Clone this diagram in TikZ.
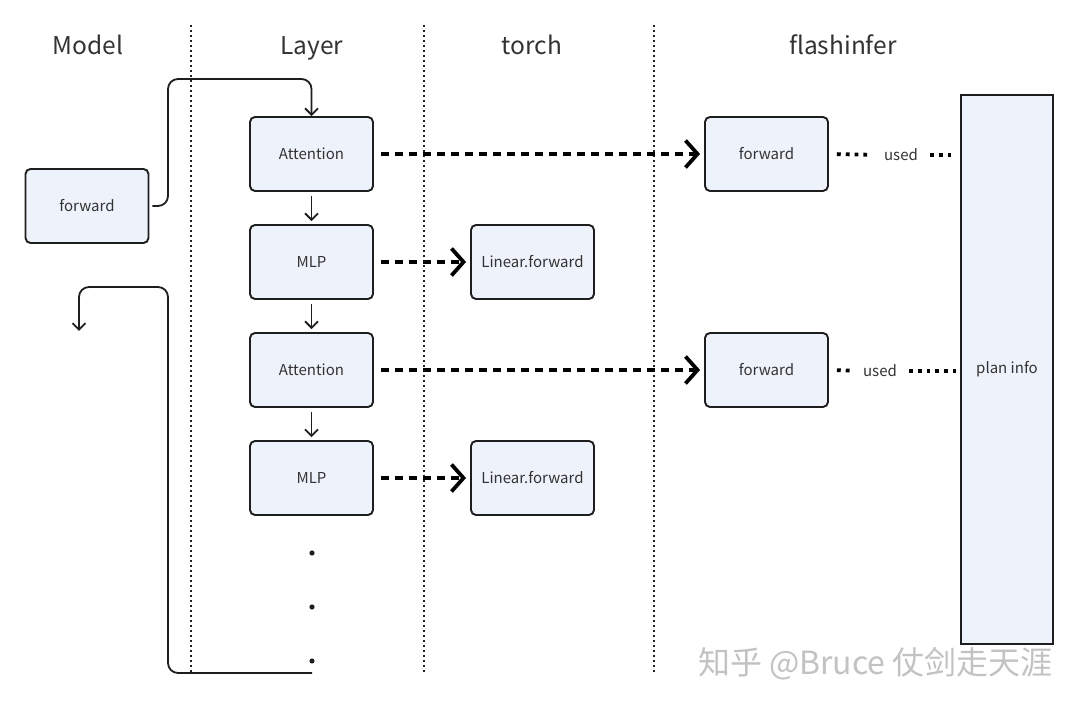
\documentclass[tikz,border=0pt]{standalone}
\usepackage{fontspec}
\setmainfont{Noto Sans CJK SC}
\usetikzlibrary{arrows.meta}
\definecolor{boxfill}{HTML}{EEF2FB}
\definecolor{boxline}{HTML}{1E1E1E}
\definecolor{txt}{HTML}{333333}
\begin{document}
\begin{tikzpicture}[x=1pt,y=-1pt,
  blk/.style={draw=boxline,line width=1.9pt,fill=boxfill,rounded corners=5pt,
    minimum width=123pt,minimum height=74pt,inner sep=0pt,text=txt,font=\fontsize{15}{17}\selectfont},
  hdr/.style={text=txt,font=\fontsize{24.5}{28}\selectfont,anchor=base},
  sep/.style={line width=1.8pt,dash pattern=on 1.8pt off 3.2pt,draw=boxline},
  flow/.style={line width=1.8pt,draw=boxline,-{Straight Barb[length=6.5pt,width=13pt]}},
  call/.style={line width=3.8pt,draw=black,dash pattern=on 8pt off 6pt,
    -{Straight Barb[length=12pt,width=27pt]},shorten <=7pt,shorten >=4pt},
  usedline/.style={line width=3.8pt,draw=black,dash pattern=on 3.8pt off 5pt},
  usedlbl/.style={text=txt,font=\fontsize{15}{17}\selectfont,inner sep=0pt}]
\useasboundingbox (0,0) rectangle (1080,708);
% column separators
\coordinate (s1a) at (191,25); \coordinate (s1b) at (191,672);
\coordinate (s2a) at (424,25); \coordinate (s2b) at (424,672);
\coordinate (s3a) at (654,25); \coordinate (s3b) at (654,672);
\draw[sep] (s1a) -- (s1b);
\draw[sep] (s2a) -- (s2b);
\draw[sep] (s3a) -- (s3b);
% headers
\node[hdr] (hmodel) at (88,55) {Model};
\node[hdr] (hlayer) at (312,55) {Layer};
\node[hdr] (htorch) at (532,55) {torch};
\node[hdr] (hflash) at (843,55) {flashinfer};
% boxes
\node[blk] (mf) at (87,206) {forward};
\node[blk] (att1) at (311.5,154) {Attention};
\node[blk] (mlp1) at (311.5,262) {MLP};
\node[blk] (att2) at (311.5,370) {Attention};
\node[blk] (mlp2) at (311.5,478) {MLP};
\node[blk] (lin1) at (532.5,262) {Linear.forward};
\node[blk] (lin2) at (532.5,478) {Linear.forward};
\node[blk] (ff1) at (766.5,154) {forward};
\node[blk] (ff2) at (766.5,370) {forward};
\node[blk,rounded corners=0pt,minimum width=92pt,minimum height=549pt] (plan) at (1007,369.5) {plan info};
% dots
\fill[boxline] (312,553) circle (2.6pt);
\fill[boxline] (312,607) circle (2.6pt);
\fill[boxline] (312,661) circle (2.6pt);
% layer flow
\draw[flow,shorten <=4pt,shorten >=3pt] (att1) -- (mlp1);
\draw[flow,shorten <=4pt,shorten >=3pt] (mlp1) -- (att2);
\draw[flow,shorten <=4pt,shorten >=3pt] (att2) -- (mlp2);
% model forward into layer
\coordinate (t1) at (168,79);
\draw[flow,rounded corners=10pt,shorten <=3pt] (mf.east) -| (t1) -| (att1.north);
% return loop
\coordinate (bot) at (312,673);
\coordinate (rt) at (168,287);
\coordinate (ret) at (79,331);
\draw[flow,rounded corners=10pt] (bot) -| (rt) -| (ret);
% calls
\draw[call] (att1) -- (ff1);
\draw[call] (att2) -- (ff2);
\draw[call] (mlp1) -- (lin1);
\draw[call] (mlp2) -- (lin2);
% used
\node[usedlbl] (u1) at (901,155) {used};
\node[usedlbl] (u2) at (880,371) {used};
\draw[usedline,shorten <=8pt,shorten >=12pt] (ff1.east) -- (u1.west);
\draw[usedline,shorten <=12pt,shorten >=4pt] (u1.east) -- (plan.west |- u1.east);
\draw[usedline,shorten <=8pt,shorten >=12pt] (ff2.east) -- (u2.west);
\draw[usedline,shorten <=12pt,shorten >=4pt] (u2.east) -- (plan.west |- u2.east);
% watermark
\node[text=black!24,font=\fontsize{32}{34}\selectfont,anchor=east,inner sep=0pt] (wm) at (1053,664) {知乎 @Bruce 仗剑走天涯};
\end{tikzpicture}
\end{document}
